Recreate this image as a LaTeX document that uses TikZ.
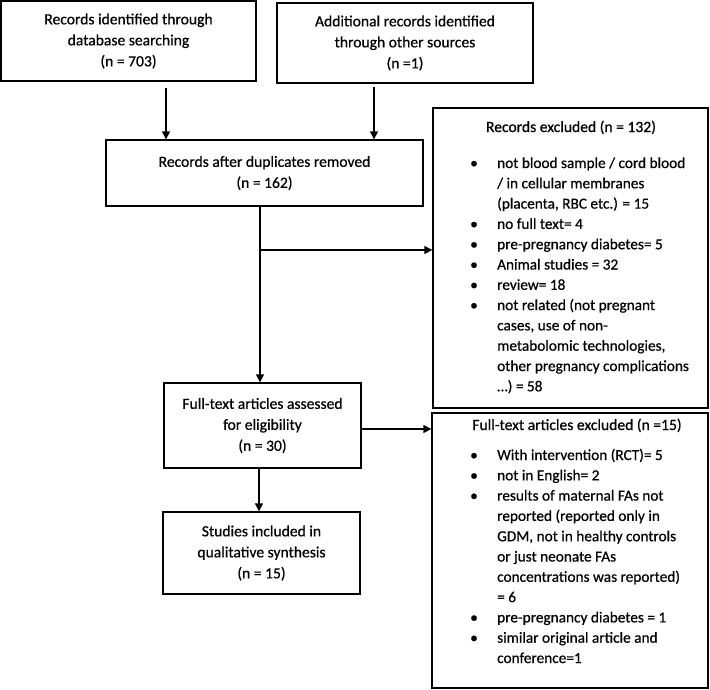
\documentclass[tikz,border=0pt]{standalone}
\usepackage{fontspec}
\setmainfont[FakeBold=0.6]{Carlito}
\usetikzlibrary{arrows.meta,calc}
\newcommand\bitem[1]{\par\hangindent=27pt\hangafter=1\noindent\makebox[27pt][l]{\textbullet}#1}
\newcommand\lst[1]{\begin{minipage}[t]{270pt}\fontsize{15.3}{20.3}\selectfont\parindent=0pt\parskip=0pt\raggedright #1\end{minipage}}
\begin{document}
\begin{tikzpicture}[x=1pt,y=-1pt,
  txt/.style={font=\fontsize{15.6}{21}\selectfont},
  box/.style={draw, line width=1.3pt, inner sep=0pt, align=center, txt},
  arr/.style={line width=1.3pt, -{Triangle[length=8pt,width=8pt]}}]
\useasboundingbox (0,0) rectangle (710,689);
\node[box, minimum width=255pt, minimum height=80pt] (b1) at (128.5,41) {Records identified through\\database searching\\(n = 703)};
\node[box, minimum width=256pt, minimum height=80pt] (b2) at (405,43) {Additional records identified\\through other sources\\(n =1)};
\node[box, minimum width=317pt, minimum height=66pt] (b3) at (264.5,173) {Records after duplicates removed\\(n = 162)};
\node[box, minimum width=197pt, minimum height=85pt] (b4) at (262.5,425.5) {Full-text articles assessed\\for eligibility\\(n = 30)};
\node[box, minimum width=197pt, minimum height=82pt] (b5) at (261.5,553) {Studies included in\\qualitative synthesis\\(n = 15)};
\node[box, minimum width=275pt, minimum height=300pt] (e1) at (570.5,258) {};
\node[box, minimum width=276pt, minimum height=275pt] (e2) at (570,550.5) {};
\node[txt, anchor=base, inner sep=0pt] (e1t) at (571,132) {Records excluded (n = 132)};
\node[anchor=base west, inner sep=0pt] (e1l) at (470,168) {\lst{%
\bitem{not blood sample / cord blood\newline / in cellular membranes\newline (placenta, RBC etc.) = 15}
\bitem{no full text= 4}
\bitem{pre-pregnancy diabetes= 5}
\bitem{Animal studies = 32}
\bitem{review= 18}
\bitem{not related (not pregnant\newline cases, use of non-\newline metabolomic technologies,\newline other pregnancy complications\newline \ldots) = 58}}};
\node[txt, anchor=base, inner sep=0pt] (e2t) at (577,430) {Full-text articles excluded (n =15)};
\node[anchor=base west, inner sep=0pt] (e2l) at (470,460) {\lst{%
\bitem{With intervention (RCT)= 5}
\bitem{not in English= 2}
\bitem{results of maternal FAs not\newline reported (reported only in\newline GDM, not in healthy controls\newline or just neonate FAs\newline concentrations was reported)\newline = 6}
\bitem{pre-pregnancy diabetes = 1}
\bitem{similar original article and\newline conference=1}}};
\coordinate (x1) at (166,0);
\coordinate (x2) at (374,0);
\coordinate (x3) at (260,0);
\coordinate (x4) at (259,0);
\coordinate (br) at (260,250);
\coordinate (y2) at (0,429);
\draw[arr] ($(b1.south -| x1)+(0,6)$) -- (b3.north -| x1);
\draw[arr] ($(b2.south -| x2)+(0,3)$) -- (b3.north -| x2);
\draw[arr] (b3.south -| x3) -- (b4.north -| x3);
\draw[arr] (br) -- (e1.west |- br);
\draw[arr] (b4.east |- y2) -- (e2.west |- y2);
\draw[arr] (b4.south -| x4) -- (b5.north -| x4);
\end{tikzpicture}
\end{document}
